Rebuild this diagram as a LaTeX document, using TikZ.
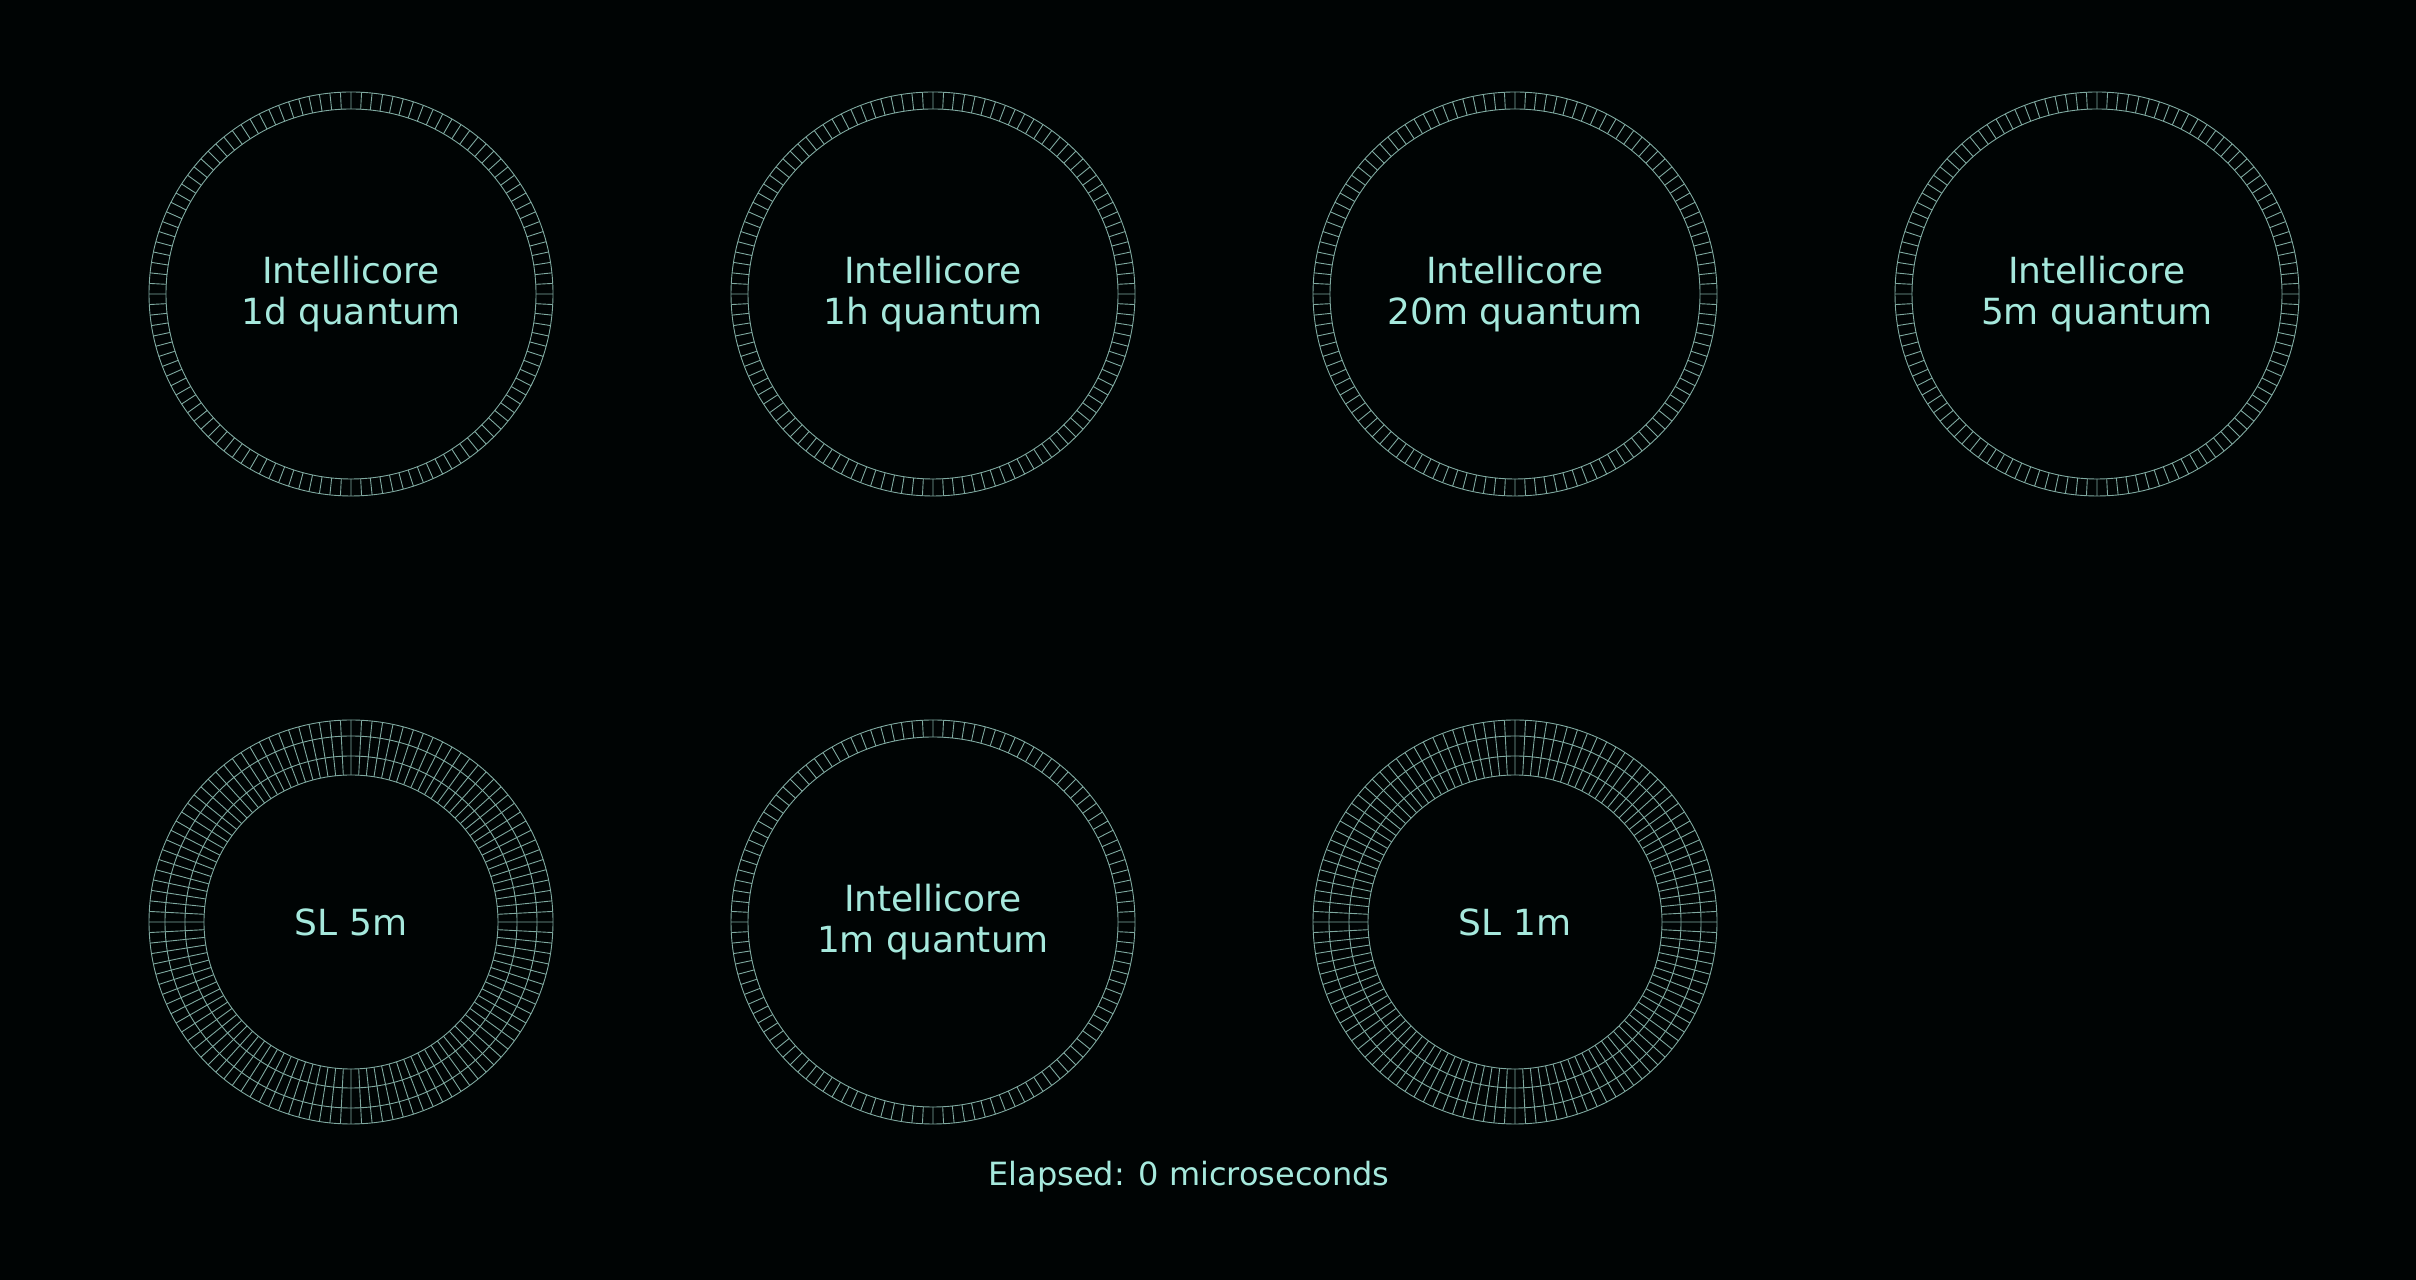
\documentclass[tikz,border=0pt]{standalone}
\usepackage{fontspec}
\setmainfont{DejaVu Sans}
\usepackage{tikz}
\definecolor{bgc}{HTML}{000404}
\definecolor{labelc}{HTML}{A6E9DD}
\definecolor{gridc}{HTML}{7FA9A0}

\begin{document}
\begin{tikzpicture}[x=0.5pt, y=0.5pt, ring/.style={draw=gridc, line width=0.45pt}, lbl/.style={text=labelc, font=\fontsize{18}{20.6}\selectfont, align=center}, info/.style={text=labelc, font=\fontsize{16}{19}\selectfont}]
            \useasboundingbox (0,0) rectangle (2416,1280);
            \fill[bgc] (0,0) rectangle (2416,1280);
            % rings, one lane
            \foreach \cx/\cy in {351/986, 933/986, 1515/986, 2097/986, 933/358} {
                \draw[ring] (\cx,\cy) circle[radius=202] (\cx,\cy) circle[radius=185];
                \draw[ring] \foreach \a in {0,3,...,357} {([shift={(\a:185)}]\cx,\cy) -- ([shift={(\a:202)}]\cx,\cy)};
            }
            % rings, three lanes
            \foreach \cx/\cy in {351/358, 1515/358} {
                \draw[ring] (\cx,\cy) circle[radius=202] (\cx,\cy) circle[radius=186] (\cx,\cy) circle[radius=166] (\cx,\cy) circle[radius=147];
                \draw[ring] \foreach \a in {0,3,...,357} {([shift={(\a:147)}]\cx,\cy) -- ([shift={(\a:202)}]\cx,\cy)};
            }
            % nodes
            \node[lbl] (ic1d) at (351,986) {Intellicore\\1d quantum};
            \node[lbl] (ic1h) at (933,986) {Intellicore\\1h quantum};
            \node[lbl] (ic20m) at (1515,986) {Intellicore\\20m quantum};
            \node[lbl] (ic5m) at (2097,986) {Intellicore\\5m quantum};

            \node[lbl] (sl5m) at (351,358) {SL 5m};
            \node[lbl] (ic1m) at (933,358) {Intellicore\\1m quantum};
            \node[lbl] (sl1m) at (1515,358) {SL 1m};

            \node[info, anchor=base] (elapsed) at (1189,94) {Elapsed: 0 microseconds};
        \end{tikzpicture}
\end{document}
